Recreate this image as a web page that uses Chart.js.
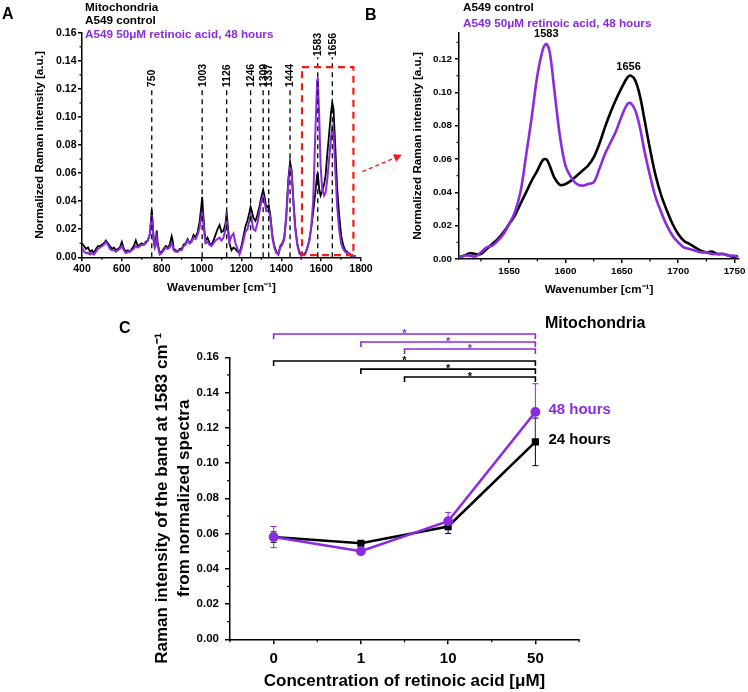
<!DOCTYPE html>
<html><head><meta charset="utf-8">
<script src="https://cdn.jsdelivr.net/npm/chart.js@4.4.1/dist/chart.umd.min.js"></script>
<style>
html,body{margin:0;padding:0;background:#fff;width:748px;height:692px;overflow:hidden;font-family:"Liberation Sans",Arial,sans-serif;}
canvas{position:absolute;}
.t{position:absolute;font-weight:bold;white-space:nowrap;line-height:1;font-family:"Liberation Sans",Arial,sans-serif;}
.p{color:#8a2be2;}
</style></head><body>
<canvas id="cA" width="410" height="300" style="left:0;top:0;width:410px;height:300px"></canvas>
<canvas id="cB" width="368" height="300" style="left:380px;top:0;width:368px;height:300px"></canvas>
<canvas id="cC" width="748" height="392" style="left:0;top:300px;width:748px;height:392px"></canvas>
<div class="t" style="left:2px;top:6px;font-size:16px">A</div>
<div class="t" style="left:85px;top:0.5px;font-size:11.7px">Mitochondria</div>
<div class="t" style="left:85px;top:14.3px;font-size:11.7px">A549 control</div>
<div class="t p" style="left:85px;top:28.3px;font-size:11.7px">A549 50μM retinoic acid, 48 hours</div>
<div class="t" style="left:365px;top:7px;font-size:16px">B</div>
<div class="t" style="left:463px;top:0.8px;font-size:11.7px">A549 control</div>
<div class="t p" style="left:463px;top:16.8px;font-size:11.7px">A549 50μM retinoic acid, 48 hours</div>
<div class="t" style="left:119px;top:320px;font-size:16px">C</div>
<div class="t" style="left:545px;top:315px;font-size:16px">Mitochondria</div>
<script>
// ---------- DATA ----------
const PURPLE = '#8a2be2';
// Panel A: full spectra
const wavenumberA = [400,410,420,430,440,450,460,470,480,490,500,510,520,530,540,550,560,570,580,590,600,610,620,630,640,650,660,670,680,690,700,710,720,730,740,745,750,755,760,765,770,775,780,790,800,810,820,830,840,850,855,860,870,880,890,900,910,920,930,940,950,960,970,980,990,1000,1003,1008,1015,1020,1030,1040,1050,1060,1070,1080,1090,1100,1110,1120,1126,1132,1140,1150,1160,1170,1180,1190,1200,1210,1220,1230,1240,1246,1252,1260,1270,1280,1290,1300,1309,1315,1325,1337,1345,1355,1365,1375,1385,1395,1405,1415,1425,1435,1444,1452,1460,1470,1480,1490,1500,1510,1520,1530,1540,1550,1560,1570,1580,1583,1590,1597,1605,1615,1622,1630,1640,1650,1656,1662,1670,1680,1690,1700,1710,1720,1730,1740,1750,1760,1775];
const controlA = [0.010,0.008,0.006,0.007,0.004,0.005,0.003,0.006,0.008,0.008,0.009,0.010,0.012,0.010,0.008,0.006,0.007,0.005,0.006,0.007,0.011,0.006,0.004,0.005,0.004,0.006,0.008,0.012,0.008,0.009,0.010,0.009,0.011,0.012,0.016,0.025,0.034,0.024,0.012,0.008,0.012,0.019,0.010,0.003,0.004,0.006,0.008,0.007,0.009,0.015,0.012,0.006,0.005,0.004,0.006,0.006,0.009,0.010,0.013,0.010,0.012,0.016,0.014,0.018,0.025,0.038,0.043,0.032,0.018,0.012,0.014,0.010,0.009,0.012,0.016,0.020,0.023,0.018,0.019,0.024,0.032,0.022,0.010,0.005,0.007,0.006,0.004,0.003,0.008,0.015,0.022,0.026,0.032,0.036,0.033,0.028,0.026,0.030,0.036,0.043,0.048,0.044,0.035,0.037,0.030,0.016,0.008,0.004,0.002,0.008,0.010,0.014,0.030,0.055,0.068,0.062,0.042,0.022,0.010,0.004,0.002,0.002,0.003,0.006,0.012,0.021,0.032,0.045,0.059,0.060,0.049,0.044,0.047,0.052,0.058,0.072,0.088,0.104,0.110,0.106,0.082,0.050,0.031,0.016,0.009,0.005,0.004,0.002,0.001,0.001,0.001];
const retinoicA = [0.007,0.004,0.003,0.003,0.002,0.003,0.002,0.004,0.006,0.007,0.008,0.009,0.011,0.009,0.006,0.005,0.005,0.004,0.005,0.006,0.008,0.005,0.003,0.004,0.004,0.005,0.006,0.008,0.007,0.008,0.009,0.009,0.010,0.012,0.016,0.022,0.030,0.022,0.011,0.007,0.009,0.014,0.008,0.002,0.003,0.005,0.007,0.006,0.007,0.010,0.008,0.005,0.004,0.004,0.005,0.005,0.008,0.009,0.012,0.010,0.011,0.014,0.013,0.016,0.021,0.030,0.034,0.026,0.016,0.010,0.011,0.009,0.008,0.010,0.012,0.013,0.014,0.012,0.014,0.020,0.027,0.019,0.011,0.015,0.017,0.010,0.006,0.002,0.006,0.012,0.018,0.020,0.026,0.030,0.026,0.020,0.019,0.024,0.032,0.040,0.044,0.040,0.033,0.034,0.028,0.014,0.007,0.003,0.002,0.007,0.009,0.013,0.028,0.052,0.065,0.060,0.040,0.020,0.009,0.003,0.001,0.002,0.002,0.007,0.011,0.021,0.040,0.085,0.126,0.128,0.102,0.066,0.049,0.044,0.046,0.054,0.070,0.086,0.093,0.090,0.065,0.037,0.020,0.010,0.006,0.004,0.003,0.003,0.002,0.001,0.001];
const bandsA = [750,1003,1126,1246,1309,1337,1444,1583,1656];
const zoomRegionA = [1504, 1762];
const xTicksA = [400,600,800,1000,1200,1400,1600,1800];
const xMinorA = [500,700,900,1100,1300,1500,1700];
const yTicksA = [0,0.02,0.04,0.06,0.08,0.10,0.12,0.14,0.16];
const yMinorA = [0.01,0.03,0.05,0.07,0.09,0.11,0.13,0.15];

// Panel B: zoomed region 1505-1753
const wavenumberB = [1505,1510,1515,1520,1525,1530,1535,1540,1545,1550,1555,1560,1565,1570,1575,1580,1583,1586,1590,1595,1600,1605,1610,1615,1620,1625,1630,1635,1640,1645,1650,1655,1658,1662,1666,1670,1675,1680,1685,1690,1695,1700,1705,1710,1715,1720,1725,1730,1735,1740,1745,1750,1753];
const controlB = [0.001,0.002,0.0035,0.003,0.003,0.006,0.009,0.012,0.016,0.021,0.026,0.033,0.040,0.047,0.053,0.0595,0.0598,0.056,0.049,0.0445,0.045,0.047,0.050,0.053,0.056,0.061,0.069,0.079,0.088,0.096,0.103,0.109,0.110,0.107,0.098,0.084,0.066,0.050,0.038,0.029,0.021,0.015,0.011,0.009,0.007,0.005,0.004,0.0045,0.003,0.003,0.002,0.001,0.002];
const retinoicB = [0.001,0.002,0.002,0.0015,0.004,0.007,0.008,0.011,0.015,0.021,0.028,0.040,0.062,0.085,0.110,0.126,0.129,0.124,0.102,0.074,0.056,0.049,0.045,0.044,0.045,0.046,0.054,0.063,0.070,0.077,0.086,0.093,0.0935,0.089,0.079,0.065,0.050,0.037,0.028,0.020,0.014,0.010,0.007,0.006,0.005,0.004,0.004,0.003,0.003,0.003,0.002,0.002,0.001];
const peakLabelsB = [1583, 1656];
const xTicksB = [1550,1600,1650,1700,1750];
const xMinorB = [1525,1575,1625,1675,1725];
const yTicksB = [0,0.02,0.04,0.06,0.08,0.10,0.12];
const yMinorB = [0.01,0.03,0.05,0.07,0.09,0.11,0.13];

// Panel C: band intensity at 1583 cm-1
const concentrations = ['0','1','10','50'];
const hours48 = [0.058, 0.050, 0.067, 0.129];
const err48 = [0.006, 0.002, 0.005, 0.016];
const hours24 = [0.058, 0.0545, 0.064, 0.112];
const err24 = [0.003, 0.0015, 0.004, 0.0135];
const yTicksC = [0,0.02,0.04,0.06,0.08,0.10,0.12,0.14,0.16];
const yMinorC = [0.01,0.03,0.05,0.07,0.09,0.11,0.13,0.15];
const xMinorC = [-0.5,0.5,1.5,2.5,3.5];
// significance brackets: start index, end index, level, colour group
const sigStart = [0, 1, 1.5, 0, 1, 1.5];
const sigEnd = [3, 3, 3, 3, 3, 3];
const sigLevel = [0.1732, 0.1687, 0.1647, 0.1579, 0.1533, 0.1488];
const sigGroup = ['48', '48', '48', '24', '24', '24'];

// ---------- HELPERS ----------
const FONT = '"Liberation Sans", Arial, sans-serif';
Chart.defaults.font.family = FONT;
Chart.defaults.color = '#000';
const xy = (xs, ys) => xs.map((x, i) => ({x, y: ys[i]}));
const fmt2 = v => Number(v).toFixed(2);
const fmt0 = v => String(v);

const minorTicks = {
  id: 'minorTicks',
  afterDraw(chart, args, o) {
    if (!o || !o.len) return;
    const ctx = chart.ctx, sx = chart.scales.x, sy = chart.scales.y;
    ctx.save(); ctx.strokeStyle = '#000'; ctx.lineWidth = o.width || 1.2;
    (o.x || []).forEach(v => { const p = sx.getPixelForValue(v); ctx.beginPath(); ctx.moveTo(p, sx.top); ctx.lineTo(p, sx.top + o.len); ctx.stroke(); });
    (o.y || []).forEach(v => { const p = sy.getPixelForValue(v); ctx.beginPath(); ctx.moveTo(sy.right, p); ctx.lineTo(sy.right - o.len, p); ctx.stroke(); });
    ctx.restore();
  }
};

function axisCommon(tickFont, tickLen, pad, cb) {
  const t = {font: tickFont, color: '#000', padding: pad, maxRotation: 0, autoSkip: false};
  if (cb) t.callback = cb;
  return {
    border: {display: true, color: '#000', width: 1.5},
    grid: {display: true, drawOnChartArea: false, drawTicks: true, tickLength: tickLen, color: '#000', lineWidth: 1.5},
    ticks: t
  };
}

// ---------- PANEL A ----------
const annotA = {
  id: 'annotA',
  afterDatasetsDraw(chart) {
    const ctx = chart.ctx, sx = chart.scales.x, sy = chart.scales.y, ca = chart.chartArea;
    ctx.save();
    bandsA.forEach(w => {
      const px = sx.getPixelForValue(w);
      const topV = w > 1500 ? 0.1425 : 0.1205;
      const py = sy.getPixelForValue(topV);
      ctx.strokeStyle = '#000'; ctx.lineWidth = 1.3; ctx.setLineDash([5, 4]);
      ctx.beginPath(); ctx.moveTo(px, sy.getPixelForValue(0)); ctx.lineTo(px, py); ctx.stroke();
      ctx.setLineDash([]);
      ctx.save(); ctx.translate(px, py - 1); ctx.rotate(-Math.PI / 2);
      ctx.font = 'bold 10.5px ' + FONT; ctx.fillStyle = '#000'; ctx.textAlign = 'left'; ctx.textBaseline = 'middle';
      ctx.fillText(String(w), 0, 0.5); ctx.restore();
    });
    const x1 = sx.getPixelForValue(zoomRegionA[0]), x2 = sx.getPixelForValue(zoomRegionA[1]);
    const y1 = sy.getPixelForValue(0.1355), y2 = sy.getPixelForValue(0.0015);
    ctx.strokeStyle = '#ee1c1c'; ctx.lineWidth = 2.2; ctx.setLineDash([7, 5]);
    ctx.strokeRect(x1, y1, x2 - x1, y2 - y1);
    const ax0 = x2 + 9, ay0 = sy.getPixelForValue(0.061), ax1 = ca.right + 41, ay1 = sy.getPixelForValue(0.073);
    ctx.lineWidth = 1.3; ctx.setLineDash([4, 3]);
    ctx.beginPath(); ctx.moveTo(ax0, ay0); ctx.lineTo(ax1 - 6, ay1 + 2.5); ctx.stroke();
    ctx.setLineDash([]);
    const ang = Math.atan2(ay1 - ay0, ax1 - ax0);
    ctx.fillStyle = '#ee1c1c'; ctx.beginPath();
    ctx.moveTo(ax1, ay1);
    ctx.lineTo(ax1 - 8 * Math.cos(ang) + 4 * Math.sin(ang), ay1 - 8 * Math.sin(ang) - 4 * Math.cos(ang));
    ctx.lineTo(ax1 - 8 * Math.cos(ang) - 4 * Math.sin(ang), ay1 - 8 * Math.sin(ang) + 4 * Math.cos(ang));
    ctx.closePath(); ctx.fill();
    ctx.restore();
  }
};

new Chart(document.getElementById('cA'), {
  type: 'line',
  data: {datasets: [
    {data: xy(wavenumberA, retinoicA), borderColor: PURPLE, borderWidth: 2, pointRadius: 0, tension: 0},
    {data: xy(wavenumberA, controlA), borderColor: '#000', borderWidth: 1.8, pointRadius: 0, tension: 0}
  ]},
  options: {
    responsive: false, animation: false, events: [],
    layout: {padding: {left: 0, top: 32.7, right: 49, bottom: 2}},
    plugins: {legend: {display: false}, tooltip: {enabled: false},
      minorTicks: {len: 2.5, x: xMinorA, y: yMinorA}},
    scales: {
      x: Object.assign(axisCommon({size: 10.5, weight: 'bold'}, 4, 2, fmt0), {
        type: 'linear', min: 400, max: 1800,
        afterBuildTicks: s => { s.ticks = xTicksA.map(v => ({value: v})); },
        afterFit: s => { s.height = 40.7; },
        title: {display: true, text: 'Wavenumber [cm⁻¹]', font: {size: 11.7, weight: 'bold'}, padding: {top: 0, bottom: 3}}
      }),
      y: Object.assign(axisCommon({size: 10.5, weight: 'bold'}, 4, 1.5, fmt2), {
        min: 0, max: 0.16,
        afterBuildTicks: s => { s.ticks = yTicksA.map(v => ({value: v})); },
        afterFit: s => { s.width = 82; },
        title: {display: true, text: 'Normalized Raman intensity [a.u.]', font: {size: 11.7, weight: 'bold'}, padding: {top: 33, bottom: 0}}
      })
    }
  },
  plugins: [minorTicks, annotA]
});

// ---------- PANEL B ----------
const annotB = {
  id: 'annotB',
  afterDatasetsDraw(chart) {
    const ctx = chart.ctx, sx = chart.scales.x, sy = chart.scales.y;
    ctx.save(); ctx.font = 'bold 11px ' + FONT; ctx.fillStyle = '#000'; ctx.textAlign = 'center'; ctx.textBaseline = 'middle';
    peakLabelsB.forEach(w => {
      const i = wavenumberB.reduce((b, v, k) => Math.abs(v - w) < Math.abs(wavenumberB[b] - w) ? k : b, 0);
      const top = Math.max(controlB[i], retinoicB[i]);
      ctx.fillText(String(w), sx.getPixelForValue(w), sy.getPixelForValue(top) - 10);
    });
    ctx.restore();
  }
};
new Chart(document.getElementById('cB'), {
  type: 'line',
  data: {datasets: [
    {data: xy(wavenumberB, retinoicB), borderColor: PURPLE, borderWidth: 2.6, pointRadius: 0, tension: 0.35},
    {data: xy(wavenumberB, controlB), borderColor: '#000', borderWidth: 2.6, pointRadius: 0, tension: 0.35}
  ]},
  options: {
    responsive: false, animation: false, events: [],
    layout: {padding: {left: 0, top: 33, right: 4, bottom: 2}},
    plugins: {legend: {display: false}, tooltip: {enabled: false},
      minorTicks: {len: 2.5, x: xMinorB, y: yMinorB}},
    scales: {
      x: Object.assign(axisCommon({size: 9.8, weight: 'bold'}, 4, 2.5, fmt0), {
        type: 'linear', min: 1505.5, max: 1754,
        afterBuildTicks: s => { s.ticks = xTicksB.map(v => ({value: v})); },
        afterFit: s => { s.height = 39; },
        title: {display: true, text: 'Wavenumber [cm⁻¹]', font: {size: 11.7, weight: 'bold'}, padding: {top: 0, bottom: 1}}
      }),
      y: Object.assign(axisCommon({size: 9.8, weight: 'bold'}, 4, 3, fmt2), {
        min: 0, max: 0.1356,
        afterBuildTicks: s => { s.ticks = yTicksB.map(v => ({value: v})); },
        afterFit: s => { s.width = 79; },
        title: {display: true, text: 'Normalized Raman intensity [a.u.]', font: {size: 11.7, weight: 'bold'}, padding: {top: 31, bottom: 0}}
      })
    }
  },
  plugins: [minorTicks, annotB]
});

// ---------- PANEL C ----------
const errorBars = {
  id: 'errorBars',
  beforeDatasetsDraw(chart) {
    const ctx = chart.ctx, sx = chart.scales.x, sy = chart.scales.y;
    chart.data.datasets.slice().reverse().forEach(ds => {
      ctx.save(); ctx.strokeStyle = ds.borderColor; ctx.lineWidth = 1;
      ds.data.forEach((v, i) => {
        const px = sx.getPixelForValue(i), t = sy.getPixelForValue(v + ds.errors[i]), b = sy.getPixelForValue(v - ds.errors[i]);
        ctx.beginPath(); ctx.moveTo(px, t); ctx.lineTo(px, b);
        ctx.moveTo(px - 3, t); ctx.lineTo(px + 3, t); ctx.moveTo(px - 3, b); ctx.lineTo(px + 3, b); ctx.stroke();
      });
      ctx.restore();
    });
  }
};
const annotC = {
  id: 'annotC',
  afterDatasetsDraw(chart) {
    const ctx = chart.ctx, sx = chart.scales.x, sy = chart.scales.y;
    ctx.save();
    sigLevel.forEach((lv, k) => {
      const col = sigGroup[k] === '48' ? PURPLE : '#000';
      const xa = sx.getPixelForValue(sigStart[k]), xb = sx.getPixelForValue(sigEnd[k]), py = sy.getPixelForValue(lv);
      ctx.strokeStyle = col; ctx.lineWidth = 1.6;
      ctx.beginPath(); ctx.moveTo(xa, py + 5); ctx.lineTo(xa, py); ctx.lineTo(xb, py); ctx.lineTo(xb, py + 5); ctx.stroke();
      ctx.fillStyle = col; ctx.font = 'bold 11px ' + FONT; ctx.textAlign = 'center'; ctx.textBaseline = 'alphabetic';
      ctx.fillText('*', (xa + xb) / 2, py + 3);
    });
    ctx.font = 'bold 15px ' + FONT; ctx.textAlign = 'left'; ctx.textBaseline = 'middle';
    chart.data.datasets.forEach(ds => {
      const n = ds.data.length - 1;
      ctx.fillStyle = ds.borderColor;
      ctx.fillText(ds.label, sx.getPixelForValue(n) + 13, sy.getPixelForValue(ds.data[n]) - 2);
    });
    ctx.restore();
  }
};
const axC = axisCommon({size: 15, weight: 'bold'}, 5, 6);
axC.grid.offset = false;
new Chart(document.getElementById('cC'), {
  type: 'line',
  data: {labels: concentrations, datasets: [
    {label: '48 hours', data: hours48, errors: err48, borderColor: PURPLE, backgroundColor: PURPLE, borderWidth: 2.6, pointStyle: 'circle', pointRadius: 3.6, tension: 0},
    {label: '24 hours', data: hours24, errors: err24, borderColor: '#000', backgroundColor: '#000', borderWidth: 2.6, pointStyle: 'rect', pointRadius: 3.2, tension: 0}
  ]},
  options: {
    responsive: false, animation: false, events: [],
    layout: {padding: {left: 0, top: 57.3, right: 169, bottom: 0}},
    plugins: {legend: {display: false}, tooltip: {enabled: false},
      minorTicks: {len: 3, x: xMinorC, y: yMinorC}},
    scales: {
      x: Object.assign(axC, {
        type: 'category', offset: true,
        afterFit: s => { s.height = 52.7; },
        title: {display: true, text: 'Concentration of retinoic acid [μM]', font: {size: 17, weight: 'bold'}, padding: {top: 0, bottom: 0}}
      }),
      y: Object.assign(axisCommon({size: 11.5, weight: 'bold'}, 5, 6, fmt2), {
        min: 0, max: 0.16,
        afterBuildTicks: s => { s.ticks = yTicksC.map(v => ({value: v})); },
        afterFit: s => { s.width = 230; },
        title: {display: true, text: ['Raman intensity of the band at 1583 cm⁻¹', 'from normalized spectra'], font: {size: 17, weight: 'bold', lineHeight: 1.25}, padding: {top: 152, bottom: 0}}
      })
    }
  },
  plugins: [minorTicks, errorBars, annotC]
});
</script>
</body></html>
